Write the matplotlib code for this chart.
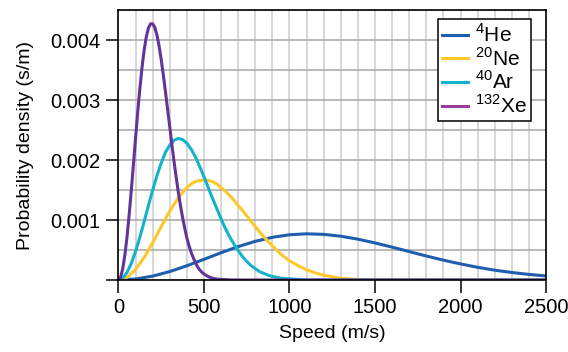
import numpy as np
import matplotlib
matplotlib.use("Agg")
import matplotlib.pyplot as plt
from matplotlib.lines import Line2D

plt.rcParams['font.family'] = ['Liberation Sans', 'DejaVu Sans']
plt.rcParams['mathtext.fontset'] = 'custom'
plt.rcParams['mathtext.rm'] = 'Liberation Sans'

# Speeds (m/s) and probability densities (s/m)
xe_v = [0, 12.5, 25, 37.5, 50, 62.5, 75, 87.5, 100, 112.5, 125, 137.5, 150, 162.5,
        175, 187.5, 200, 212.5, 225, 237.5, 250, 262.5, 275, 287.5, 300, 312.5,
        325, 337.5, 350, 362.5, 375, 387.5, 400, 412.5, 425, 437.5, 450, 462.5,
        475, 487.5, 500, 525, 550, 575, 600, 650, 700, 2500]
xe_p = [0, 0.000048, 0.00019, 0.00042, 0.00072, 0.00109, 0.00150, 0.00193, 0.00237,
        0.00280, 0.00319, 0.00354, 0.00383, 0.00405, 0.00420, 0.00427, 0.00427,
        0.00421, 0.00408, 0.00390, 0.00367, 0.00341, 0.00313, 0.00284, 0.00255,
        0.00225, 0.00197, 0.00171, 0.00146, 0.00124, 0.00104, 0.00086, 0.00070,
        0.00057, 0.00046, 0.00037, 0.00029, 0.00022, 0.00017, 0.00013, 0.00010,
        0.000056, 0.00003, 0.000016, 0.00001, 0.000002, 0, 0]

ar_v = [0, 25, 50, 75, 100, 125, 150, 175, 200, 225, 250, 275, 300, 325, 350, 375,
        400, 425, 450, 475, 500, 525, 550, 575, 600, 625, 650, 675, 700, 725, 750,
        775, 800, 825, 850, 875, 900, 950, 1000, 1100, 2500]
ar_p = [0, 0.000032, 0.000127, 0.000278, 0.000478, 0.000713, 0.000972, 0.00124,
        0.00150, 0.00174, 0.00195, 0.00213, 0.00225, 0.00233, 0.00236, 0.00234,
        0.00228, 0.00218, 0.00205, 0.00189, 0.00172, 0.00154, 0.00136, 0.00119,
        0.00102, 0.00086, 0.00072, 0.00060, 0.00049, 0.00039, 0.00031, 0.00024,
        0.00019, 0.00014, 0.00011, 0.00008, 0.00006, 0.00003, 0.00002, 0, 0]

ne_v = [0, 50, 100, 150, 200, 250, 275, 300, 325, 350, 375, 400, 425, 450, 475,
        500, 525, 550, 575, 600, 625, 650, 675, 700, 725, 750, 800, 850, 900, 950,
        1000, 1050, 1100, 1150, 1200, 1300, 1400, 1500, 2500]
ne_p = [0, 0.000045, 0.000176, 0.000376, 0.000623, 0.00089, 0.00102, 0.00115,
        0.00126, 0.00137, 0.00146, 0.00154, 0.00160, 0.00164, 0.00166, 0.00167,
        0.00166, 0.00164, 0.00160, 0.00154, 0.00148, 0.00141, 0.00133, 0.00124,
        0.00116, 0.00107, 0.00089, 0.00072, 0.00057, 0.00043, 0.00032, 0.00024,
        0.00017, 0.00012, 0.00008, 0.00003, 0.00001, 0, 0]

he_v = [0, 100, 200, 300, 400, 500, 600, 700, 800, 900, 1000, 1100, 1200, 1300,
        1400, 1500, 1600, 1700, 1800, 1900, 2000, 2100, 2200, 2300, 2400, 2500]
he_p = [0, 0.000017, 0.000065, 0.000141, 0.000238, 0.000345, 0.000455, 0.000557,
        0.000645, 0.000712, 0.000754, 0.00077, 0.000761, 0.00073, 0.000681, 0.000618,
        0.000548, 0.000474, 0.0004, 0.000331, 0.000268, 0.000212, 0.000164,
        0.000125, 0.000093, 0.000068]

labels = ['$^{4}$He', '$^{20}$Ne', '$^{40}$Ar', '$^{132}$Xe']
colors = ['#1f5eae', '#fdc82a', '#13b3cb', '#623499']
legend_colors = ['#1f5eae', '#fdc82a', '#13b3cb', '#9a3d9c']

fig = plt.figure(figsize=(5.68, 3.52), dpi=100)
ax = fig.add_axes([0.2086, 0.2045, 0.7527, 0.767])

ax.plot(he_v, he_p, color=colors[0], lw=2.2, zorder=3)
ax.plot(ne_v, ne_p, color=colors[1], lw=2.2, zorder=3)
ax.plot(ar_v, ar_p, color=colors[2], lw=2.2, zorder=3)
ax.plot(xe_v, xe_p, color=colors[3], lw=2.2, zorder=3)

ax.set_xlim(0, 2500)
ax.set_ylim(0, 0.0045)
ax.set_xticks([0, 500, 1000, 1500, 2000, 2500])
ax.set_xticks(np.arange(0, 2501, 100), minor=True)
ax.set_yticks([0, 0.001, 0.002, 0.003, 0.004])
ax.set_yticklabels(['', '0.001', '0.002', '0.003', '0.004'])
ax.set_yticks(np.arange(0, 0.0046, 0.0005), minor=True)

ax.grid(which='both', axis='x', color='#cdcdcd', lw=1.1, zorder=0)
ax.grid(which='both', axis='y', color='#a6a6a6', lw=1.1, zorder=0)
ax.set_axisbelow(True)

ax.tick_params(which='major', length=9, width=1.1, direction='out', labelsize=14.5, pad=4)
ax.tick_params(which='minor', length=0)
for s in ax.spines.values():
    s.set_linewidth(1.2)
    s.set_zorder(5)

ax.set_xlabel('Speed (m/s)', fontsize=14, labelpad=6)
ax.set_ylabel('Probability density (s/m)', fontsize=14, labelpad=12)

handles = [Line2D([], [], color=c, lw=2.2) for c in legend_colors]
leg = ax.legend(handles, labels, loc='upper right', bbox_to_anchor=(0.965, 0.966),
                fontsize=15, frameon=True, fancybox=False, framealpha=1,
                edgecolor='black', handlelength=1.25, handletextpad=0.35,
                borderpad=0.2, labelspacing=0.05, borderaxespad=0)
leg.get_frame().set_linewidth(1.1)

fig.savefig('out.png', dpi=100)
